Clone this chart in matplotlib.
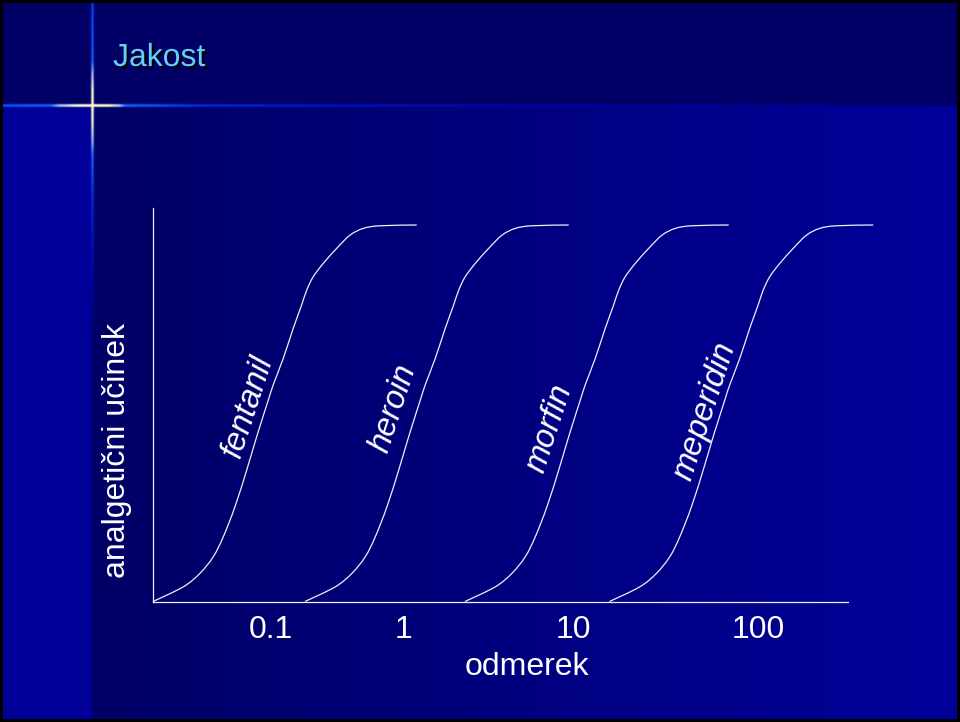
import numpy as np
import matplotlib
matplotlib.use("Agg")
import matplotlib.pyplot as plt
import matplotlib.patheffects as pe
from matplotlib.path import Path
from matplotlib.patches import PathPatch

plt.rcParams['font.family'] = ['Liberation Sans', 'DejaVu Sans']

# ---- data -------------------------------------------------------------
title = "Jakost"
drugs = ["fentanil", "heroin", "morfin", "meperidin"]
# horizontal position where each dose-response curve leaves the baseline
curve_starts = [0.00, 1.52, 3.12, 4.565]
# shared S-shaped dose-response profile (offset from start, effect 0..1)
profile_dx = [0.000, 0.303, 0.470, 0.603, 0.703, 0.820, 0.937, 1.037,
              1.153, 1.203, 1.303, 1.403, 1.487, 1.537, 1.603, 1.703,
              1.837, 1.970, 2.103, 2.270, 2.637]
profile_effect = [0.000, 0.039, 0.075, 0.119, 0.172, 0.252, 0.349, 0.438,
                  0.535, 0.576, 0.646, 0.726, 0.788, 0.827, 0.863, 0.898,
                  0.938, 0.973, 0.991, 0.998, 1.000]
tick_positions = [1.18, 2.50, 4.20, 6.05]
tick_labels = ["0.1", "1", "10", "100"]
x_label = "odmerek"
y_label = "analgetični učinek"

# ---- layout -----------------------------------------------------------
W, H = 960, 722
label_xy = [(0.95, 0.518), (2.40, 0.512), (3.96, 0.459), (5.52, 0.505)]
label_angle = 72

# ---- slide background -------------------------------------------------
navy = np.array([0, 0, 102]) / 255
royal = np.array([0, 0, 153]) / 255
img = np.empty((H, W, 3))
img[:] = navy
cols = np.arange(W)
t = np.clip((cols - 93) / (956 - 93), 0, 1)
body = navy + (royal - navy) * t[:, None]
img[106:, :] = body[None, :, :]
img[106:, :92] = royal


def ramp(d, stops, colors, alphas=None, alpha_stops=None):
    colors = np.asarray(colors, float) / 255
    rgb = np.stack([np.interp(d, stops, colors[:, k]) for k in range(3)], -1)
    if alphas is None:
        a = np.ones_like(d, dtype=float)
    else:
        a = np.interp(d, alpha_stops, alphas)
    return rgb, a


def blend_row(row, c0, c1, rgb, a):
    for off, w in ((-2, 0.15), (-1, 0.7), (0, 1.0), (1, 0.7), (2, 0.15)):
        r = row + off
        seg = img[r, c0:c1]
        ww = (w * a)[:, None]
        img[r, c0:c1] = seg * (1 - ww) + rgb * ww


def blend_col(col, r0, r1, rgb, a):
    for off, w in ((-2, 0.15), (-1, 0.6), (0, 1.0), (1, 0.6), (2, 0.15)):
        c = col + off
        seg = img[r0:r1, c]
        ww = (w * a)[:, None]
        img[r0:r1, c] = seg * (1 - ww) + rgb * ww


cx, cy = 92, 105
pale = (255, 255, 205)
# horizontal streak, right side
d = np.arange(cx, W) - cx
rgb, a = ramp(d, [0, 16, 27, 33, 60, 110, 250, 500, 870],
              [pale, (250, 250, 210), (170, 190, 245), (10, 100, 255),
               (0, 85, 252), (0, 40, 220), (0, 14, 188), (0, 0, 160),
               (0, 0, 150)],
              [1, 1, 0.85, 0.15], [0, 300, 600, 870])
blend_row(cy, cx, W, rgb, a)
# horizontal streak, left side
d = cx - np.arange(0, cx)
rgb, a = ramp(d, [0, 16, 33, 42, 92],
              [pale, (250, 250, 210), (160, 185, 245), (10, 95, 255),
               (0, 85, 250)])
blend_row(cy, 0, cx, rgb, a)
# vertical streak, upward
d = cy - np.arange(0, cy)
rgb, a = ramp(d, [0, 15, 32, 45, 105],
              [pale, (245, 245, 215), (150, 175, 245), (10, 90, 255),
               (0, 60, 240)])
blend_col(cx, 0, cy, rgb, a)
# vertical streak, downward
d = np.arange(cy, 330) - cy
rgb, a = ramp(d, [0, 15, 35, 50, 95, 140, 200],
              [pale, (240, 240, 220), (150, 175, 245), (20, 95, 255),
               (0, 40, 215), (0, 15, 180), (0, 0, 150)],
              [1, 1, 0.6, 0.0], [0, 150, 200, 225])
blend_col(cx, cy, 330, rgb, a)

# black frame round the slide
img[:3, :] = 0
img[-3:, :] = 0
img[:, :3] = 0
img[:, -3:] = 0

fig = plt.figure(figsize=(W / 100, H / 100), dpi=100)
fig.figimage(np.clip(img, 0, 1), 0, 0, origin='upper', zorder=0)

# ---- title ------------------------------------------------------------
fig.text(113 / W, 1 - 66 / H, title, ha='left', va='baseline',
         fontsize=23, color='#66ccff',
         path_effects=[pe.SimplePatchShadow(offset=(1.6, -1.6),
                                            shadow_rgbFace='black', alpha=1.0),
                       pe.Normal()])

# ---- chart ------------------------------------------------------------
ax_left, ax_right, ax_bottom, ax_top = 153, 880, 601.5, 208
ax = fig.add_axes([ax_left / W, 1 - ax_bottom / H,
                   (ax_right - ax_left) / W, (ax_bottom - ax_top) / H])
ax.set_zorder(2)
ax.patch.set_alpha(0)
ax.set_xlim(0, (ax_right - ax_left) / 100)
ax.set_ylim(0, (ax_bottom - ax_top) / 376.5)

line_col = '#f0f0f8'


def smooth_path(xs, ys):
    """Catmull-Rom curve through the points, as cubic Bezier segments."""
    p = np.column_stack([xs, ys])
    ext = np.vstack([p[0], p, p[-1]])
    verts = [p[0]]
    codes = [Path.MOVETO]
    for i in range(len(p) - 1):
        p0, p1, p2, p3 = ext[i], ext[i + 1], ext[i + 2], ext[i + 3]
        verts += [p1 + (p2 - p0) / 6, p2 - (p3 - p1) / 6, p2]
        codes += [Path.CURVE4] * 3
    return Path(verts, codes)


for start in curve_starts:
    path = smooth_path(np.asarray(profile_dx) + start, profile_effect)
    ax.add_patch(PathPatch(path, facecolor='none', edgecolor=line_col,
                           lw=0.9, clip_on=False))

for name, (lx, ly) in zip(drugs, label_xy):
    ax.text(lx, ly, name, rotation=label_angle, ha='center', va='center',
            fontsize=23.5, style='italic', color='white')

for side in ('top', 'right'):
    ax.spines[side].set_visible(False)
for side in ('left', 'bottom'):
    ax.spines[side].set_color(line_col)
    ax.spines[side].set_linewidth(0.9)
ax.spines['bottom'].set_bounds(0, 6.95)

ax.set_yticks([])
ax.set_xticks(tick_positions, tick_labels)
ax.tick_params(axis='x', length=0, pad=9.5, labelsize=23, labelcolor='white')

ax.set_xlabel(x_label, fontsize=23, color='white')
ax.xaxis.set_label_coords((526.5 - ax_left) / (ax_right - ax_left),
                          (ax_bottom - 652) / (ax_bottom - ax_top))
ax.set_ylabel(y_label, fontsize=23, color='white', va='center')
ax.yaxis.set_label_coords((116.5 - ax_left) / (ax_right - ax_left),
                          (ax_bottom - 450) / (ax_bottom - ax_top))

fig.savefig('out.png', dpi=100)
